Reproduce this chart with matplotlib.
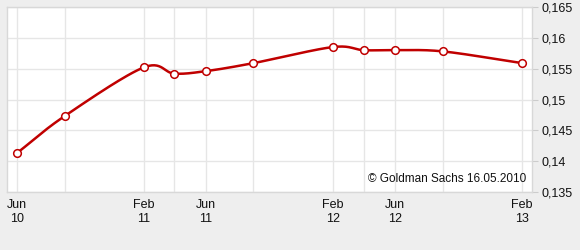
import numpy as np
import pandas as pd
import matplotlib
matplotlib.use("Agg")
import matplotlib.pyplot as plt

# data
dates = ["2010-06-01", "2010-09-01", "2011-02-01", "2011-04-01", "2011-06-01",
         "2011-09-01", "2012-02-01", "2012-04-01", "2012-06-01", "2012-09-01",
         "2013-02-01"]
values = [0.1413, 0.1473, 0.1552, 0.1542, 0.1546, 0.1559, 0.1585, 0.1580,
          0.1580, 0.1578, 0.1559]
tick_dates = ["2010-06-01", "2011-02-01", "2011-06-01", "2012-02-01",
              "2012-06-01", "2013-02-01"]
tick_labels = ["Jun\n10", "Feb\n11", "Jun\n11", "Feb\n12", "Jun\n12", "Feb\n13"]
yticks = [0.135, 0.14, 0.145, 0.15, 0.155, 0.16, 0.165]
ytick_labels = ["0,135", "0,14", "0,145", "0,15", "0,155", "0,16", "0,165"]

RED = "#c00000"
BG = "#eeeeee"
GRID = "#e6e6e6"


def catmull_rom(x, y, n=30):
    # smooth display curve through the points (cardinal spline)
    x = np.asarray(x, float)
    y = np.asarray(y, float)
    px = np.concatenate([[2 * x[0] - x[1]], x, [2 * x[-1] - x[-2]]])
    py = np.concatenate([[2 * y[0] - y[1]], y, [2 * y[-1] - y[-2]]])
    xs, ys = [], []
    for i in range(1, len(px) - 2):
        t = np.linspace(0, 1, n)
        for arr, out in ((px, xs), (py, ys)):
            p0, p1, p2, p3 = arr[i - 1], arr[i], arr[i + 1], arr[i + 2]
            out.append(0.5 * ((2 * p1) + (-p0 + p2) * t
                              + (2 * p0 - 5 * p1 + 4 * p2 - p3) * t ** 2
                              + (-p0 + 3 * p1 - 3 * p2 + p3) * t ** 3))
    return np.concatenate(xs), np.concatenate(ys)


x = pd.to_datetime(dates).map(pd.Timestamp.toordinal).to_numpy()
xt = pd.to_datetime(tick_dates).map(pd.Timestamp.toordinal).to_numpy()

plt.rcParams["font.family"] = ["Liberation Sans", "DejaVu Sans"]

fig = plt.figure(figsize=(5.8, 2.5), dpi=100, facecolor=BG)
ax = fig.add_axes([7 / 580, 1 - 192 / 250, 525 / 580, 185 / 250])
ax.set_facecolor("white")

sx, sy = catmull_rom(x, values)
ax.plot(sx, sy, color=RED, lw=1.8, zorder=3)
ax.plot(x, values, ls="none", marker="o", ms=5.5, mfc="white", mec=RED,
        mew=1.1, zorder=4)

ax.set_xlim(x[0] - 0.63 * 30.4, x[-1] + 0.63 * 30.4)
ax.set_ylim(0.135, 0.165)

# vertical grid at every data point, horizontal at each y tick
for v in x:
    ax.axvline(v, color=GRID, lw=1, zorder=1)
for v in yticks:
    ax.axhline(v, color=GRID, lw=1, zorder=1)

ax.yaxis.tick_right()
ax.set_yticks(yticks)
ax.set_yticklabels(ytick_labels)
ax.set_xticks(xt)
ax.set_xticklabels(tick_labels, linespacing=1.25)
ax.tick_params(axis="y", length=4, color="#cccccc", labelsize=9, pad=3,
               labelcolor="#111111")
ax.tick_params(axis="x", length=0, labelsize=9, pad=5, labelcolor="#111111")

for s in ax.spines.values():
    s.set_color("#d8d8d8")
    s.set_linewidth(1)

ax.text(0.99, 0.04, "\u00a9 Goldman Sachs 16.05.2010", transform=ax.transAxes,
        ha="right", va="bottom", fontsize=8.5, color="#111111", zorder=5)

fig.savefig("out.png", dpi=100, facecolor=BG)
